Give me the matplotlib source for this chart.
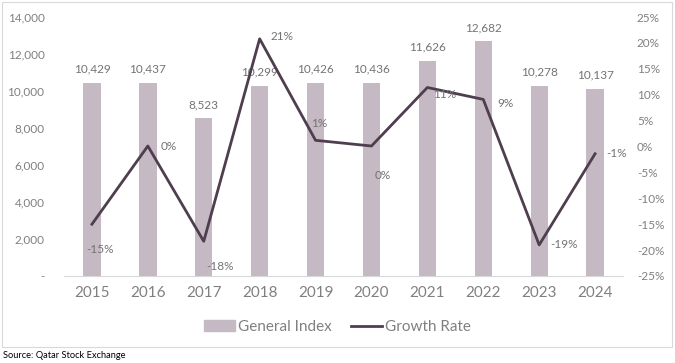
import matplotlib.pyplot as plt
import matplotlib.patches as mpatches
from matplotlib.lines import Line2D
import numpy as np

plt.rcParams['font.family'] = ['Lato', 'DejaVu Sans']

# Data
years = ['2015', '2016', '2017', '2018', '2019', '2020', '2021', '2022', '2023', '2024']
general_index = [10429, 10437, 8523, 10299, 10426, 10436, 11626, 12682, 10278, 10137]
growth_rate = [-15.0, 0.1, -18.3, 20.8, 1.2, 0.1, 11.4, 9.1, -19.0, -1.4]
growth_labels = ['-15%', '0%', '-18%', '21%', '1%', '0%', '11%', '9%', '-19%', '-1%']

bar_color = '#c5b9c3'
line_color = '#4e3e4e'
tick_color = '#808080'
label_color = '#737373'

fig = plt.figure(figsize=(6.75, 3.63), dpi=100)
ax = fig.add_axes([0.0948, 0.2397, 0.8282, 0.7133])
ax2 = ax.twinx()

x = np.arange(len(years))
ax.bar(x, general_index, width=0.31, color=bar_color, zorder=2)
ax.set_xlim(-0.5, len(years) - 0.5)
ax.set_ylim(0, 14000)
ax.set_yticks(np.arange(0, 14001, 2000))
ax.set_yticklabels(['-'] + [f'{v:,}' for v in range(2000, 14001, 2000)])
ax.set_xticks(x)
ax.set_xticklabels(years)

for xi, v in zip(x, general_index):
    ax.annotate(f'{v:,}', (xi, v), xytext=(0, 6), textcoords='offset points',
                ha='center', va='bottom', fontsize=8.5, color=label_color)

ax2.plot(x, growth_rate, color=line_color, linewidth=2, zorder=3)
ax2.set_ylim(-25, 25)
ax2.set_yticks(np.arange(-25, 26, 5))
ax2.set_yticklabels([f'{v}%' for v in range(-25, 26, 5)])

# label offsets (points)
offsets = [(-4, -18), (9, 0), (2, -18), (8, 2), (-3, 12), (2, -21), (4, -5), (10, -3), (8, 0), (8, 0)]
for xi, v, lab, off in zip(x, growth_rate, growth_labels, offsets):
    ax2.annotate(lab, (xi, v), xytext=off, textcoords='offset points',
                 ha='left', va='center', fontsize=8.5, color=label_color, zorder=4)

for a in (ax, ax2):
    for s in a.spines.values():
        s.set_visible(False)
    a.tick_params(length=0, colors=tick_color, labelsize=8.5)
ax.spines['bottom'].set_visible(True)
ax.spines['bottom'].set_color('#d9d9d9')
ax.tick_params(axis='x', labelsize=11, pad=7)
ax.tick_params(axis='y', pad=14)
ax2.tick_params(axis='y', pad=10)

handles = [mpatches.Patch(color=bar_color, label='General Index'),
           Line2D([0], [0], color=line_color, linewidth=2, label='Growth Rate')]
fig.legend(handles=handles, loc='center', bbox_to_anchor=(0.5, 0.099), ncol=2,
           frameon=False, fontsize=11, labelcolor=tick_color, handlelength=2.0,
           handletextpad=0.2, columnspacing=1.3)

fig.patches.append(mpatches.Rectangle((2 / 675, 16 / 363), 670 / 675, 345 / 363,
                                      transform=fig.transFigure, fill=False,
                                      edgecolor='#d9d9d9', linewidth=0.8))
fig.text(3 / 675, 8 / 363, 'Source: Qatar Stock Exchange', fontsize=6.7, color='black',
         ha='left', va='center')

fig.savefig('out.png', dpi=100)
